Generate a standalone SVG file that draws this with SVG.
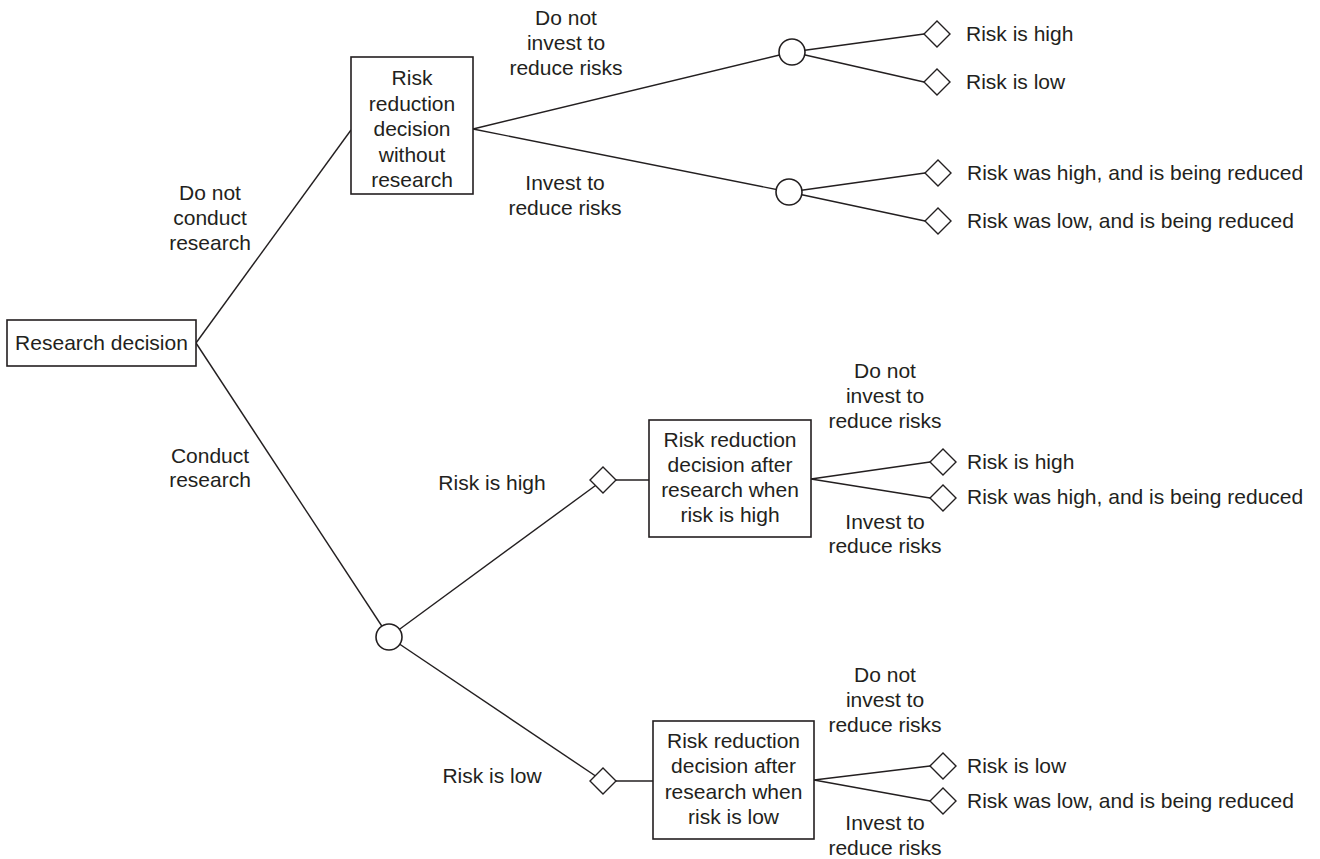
<svg xmlns="http://www.w3.org/2000/svg" width="1320" height="859" viewBox="0 0 1320 859">
<style>
text{font-family:"Liberation Sans",Arial,sans-serif;font-size:21px;fill:#231f20}
.c{text-anchor:middle}
.s{text-anchor:start}
.edge{stroke:#231f20;stroke-width:1.4;fill:none}
.box{fill:#fff;stroke:#231f20;stroke-width:1.6}
.chance{fill:#fff;stroke:#231f20;stroke-width:1.6}
.end{fill:#fff;stroke:#231f20;stroke-width:1.4}
</style>
<defs>
<polygon id="dia" points="-13,0 0,-13 13,0 0,13"/>
</defs>
<rect width="1320" height="859" fill="#fff"/>
<g id="connectors">
<line class="edge" x1="196" y1="343" x2="351" y2="130"/>
<line class="edge" x1="196" y1="343" x2="389" y2="637"/>
<line class="edge" x1="473" y1="129" x2="792" y2="52"/>
<line class="edge" x1="473" y1="129" x2="789" y2="192"/>
<line class="edge" x1="792" y1="52" x2="924" y2="34"/>
<line class="edge" x1="792" y1="52" x2="924" y2="82"/>
<line class="edge" x1="789" y1="192" x2="925" y2="173"/>
<line class="edge" x1="789" y1="192" x2="925" y2="221"/>
<line class="edge" x1="389" y1="637" x2="603" y2="480"/>
<line class="edge" x1="389" y1="637" x2="603" y2="781"/>
<line class="edge" x1="603" y1="480" x2="649" y2="480"/>
<line class="edge" x1="603" y1="781" x2="653" y2="781"/>
<line class="edge" x1="811" y1="479" x2="930" y2="462"/>
<line class="edge" x1="811" y1="479" x2="930" y2="498"/>
<line class="edge" x1="814" y1="780" x2="930" y2="766"/>
<line class="edge" x1="814" y1="780" x2="930" y2="801"/>
</g>
<g id="edge-labels">
<text class="c" x="210" y="200">Do not</text>
<text class="c" x="210" y="225">conduct</text>
<text class="c" x="210" y="250">research</text>
<text class="c" x="210" y="463">Conduct</text>
<text class="c" x="210" y="487">research</text>
<text class="c" x="566" y="25">Do not</text>
<text class="c" x="566" y="50">invest to</text>
<text class="c" x="566" y="75">reduce risks</text>
<text class="c" x="565" y="190">Invest to</text>
<text class="c" x="565" y="215">reduce risks</text>
<text class="c" x="492" y="490">Risk is high</text>
<text class="c" x="492" y="783">Risk is low</text>
<text class="c" x="885" y="378">Do not</text>
<text class="c" x="885" y="403">invest to</text>
<text class="c" x="885" y="428">reduce risks</text>
<text class="c" x="885" y="529">Invest to</text>
<text class="c" x="885" y="553">reduce risks</text>
<text class="c" x="885" y="682">Do not</text>
<text class="c" x="885" y="707">invest to</text>
<text class="c" x="885" y="732">reduce risks</text>
<text class="c" x="885" y="830">Invest to</text>
<text class="c" x="885" y="855">reduce risks</text>
</g>
<g id="research-decision">
<rect class="box" x="7" y="320" width="189" height="46"/>
<text class="c" x="101.5" y="350">Research decision</text>
</g>
<g id="rr-without-research">
<rect class="box" x="351" y="57" width="122" height="137"/>
<text class="c" x="412" y="85">Risk</text>
<text class="c" x="412" y="110.5">reduction</text>
<text class="c" x="412" y="136">decision</text>
<text class="c" x="412" y="161.5">without</text>
<text class="c" x="412" y="187">research</text>
</g>
<g id="chance-no-invest"><circle class="chance" cx="792" cy="52" r="13"/></g>
<g id="chance-invest"><circle class="chance" cx="789" cy="192" r="13"/></g>
<g id="chance-research"><circle class="chance" cx="389" cy="637" r="13"/></g>
<g id="end-1"><use href="#dia" class="end" x="937" y="34"/><text class="s" x="966" y="41">Risk is high</text></g>
<g id="end-2"><use href="#dia" class="end" x="937" y="82"/><text class="s" x="966" y="89">Risk is low</text></g>
<g id="end-3"><use href="#dia" class="end" x="938" y="173"/><text class="s" x="967" y="180">Risk was high, and is being reduced</text></g>
<g id="end-4"><use href="#dia" class="end" x="938" y="221"/><text class="s" x="967" y="228">Risk was low, and is being reduced</text></g>
<g id="outcome-high"><use href="#dia" class="end" x="603" y="480"/></g>
<g id="outcome-low"><use href="#dia" class="end" x="603" y="781"/></g>
<g id="rr-after-high">
<rect class="box" x="649" y="420" width="162" height="117"/>
<text class="c" x="730" y="447">Risk reduction</text>
<text class="c" x="730" y="472">decision after</text>
<text class="c" x="730" y="497">research when</text>
<text class="c" x="730" y="522">risk is high</text>
</g>
<g id="rr-after-low">
<rect class="box" x="653" y="721" width="161" height="118"/>
<text class="c" x="733.5" y="748">Risk reduction</text>
<text class="c" x="733.5" y="773">decision after</text>
<text class="c" x="733.5" y="799">research when</text>
<text class="c" x="733.5" y="824">risk is low</text>
</g>
<g id="end-5"><use href="#dia" class="end" x="943" y="462"/><text class="s" x="967" y="469">Risk is high</text></g>
<g id="end-6"><use href="#dia" class="end" x="943" y="498"/><text class="s" x="967" y="504">Risk was high, and is being reduced</text></g>
<g id="end-7"><use href="#dia" class="end" x="943" y="766"/><text class="s" x="967" y="773">Risk is low</text></g>
<g id="end-8"><use href="#dia" class="end" x="943" y="801"/><text class="s" x="967" y="808">Risk was low, and is being reduced</text></g>
</svg>
